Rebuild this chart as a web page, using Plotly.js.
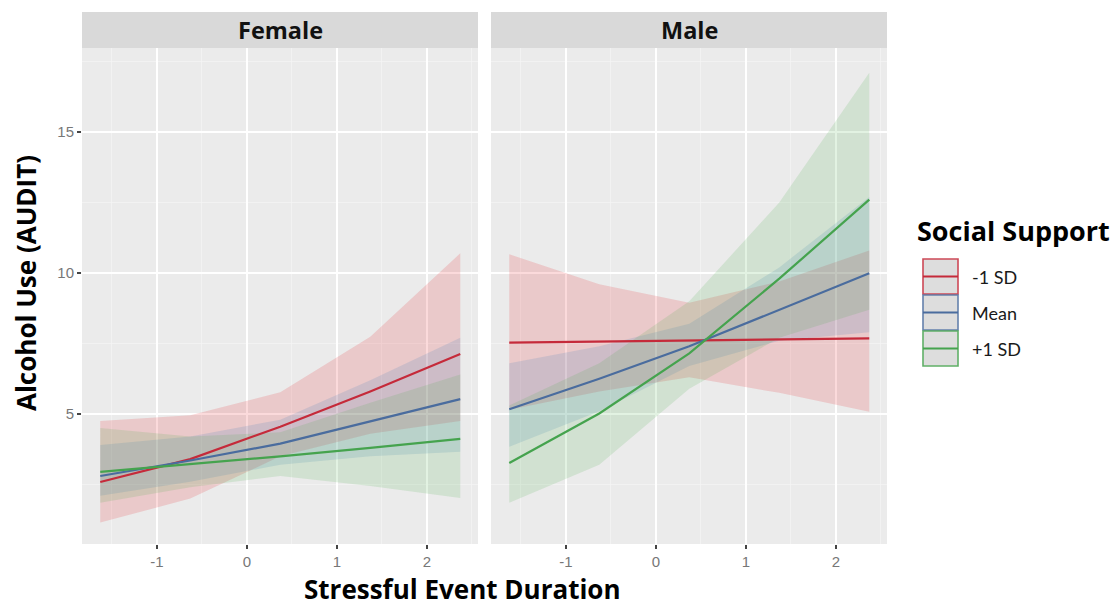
<!DOCTYPE html>
<html><head><meta charset="utf-8">
<script src="https://cdn.plot.ly/plotly-3.0.1.min.js"></script>
<style>html,body{margin:0;padding:0;background:#fff}#chart{width:1120px;height:609px}</style>
</head><body><div id="chart"></div>
<script>
// Stressful event duration (x) values at which predictions were computed
var durations = [-1.63, -0.63, 0.37, 1.37, 2.37];
var panels = ["Female", "Male"];
var groups = ["-1 SD", "Mean", "+1 SD"];

// Female panel: fitted values and confidence bands
var femaleLowFit  = [2.59, 3.40, 4.55, 5.80, 7.13];
var femaleLowLo   = [1.15, 2.00, 3.50, 4.30, 4.75];
var femaleLowHi   = [4.75, 4.96, 5.77, 7.74, 10.70];
var femaleMeanFit = [2.80, 3.35, 3.95, 4.73, 5.53];
var femaleMeanLo  = [2.10, 2.60, 3.20, 3.50, 3.66];
var femaleMeanHi  = [3.90, 4.20, 4.80, 6.20, 7.70];
var femaleHighFit = [2.95, 3.22, 3.50, 3.80, 4.12];
var femaleHighLo  = [1.85, 2.40, 2.80, 2.45, 2.02];
var femaleHighHi  = [4.50, 4.20, 4.35, 5.40, 6.40];

// Male panel: fitted values and confidence bands
var maleLowFit  = [7.53, 7.57, 7.61, 7.65, 7.68];
var maleLowLo   = [5.15, 5.80, 6.30, 5.75, 5.08];
var maleLowHi   = [10.67, 9.60, 8.95, 9.70, 10.80];
var maleMeanFit = [5.17, 6.25, 7.40, 8.70, 9.99];
var maleMeanLo  = [3.84, 5.10, 6.70, 7.60, 7.90];
var maleMeanHi  = [6.80, 7.40, 8.20, 10.20, 12.70];
var maleHighFit = [3.26, 5.02, 7.15, 9.80, 12.60];
var maleHighLo  = [1.85, 3.20, 5.90, 7.70, 8.70];
var maleHighHi  = [5.30, 6.80, 9.00, 12.50, 17.10];

var xTicks = [-1, 0, 1, 2];
var yTicks = [5, 10, 15];

var lineColors = ["#C52A3A", "#4A6C9E", "#45A34E"];
var fillColors = ["rgba(228,26,28,0.16)", "rgba(55,126,184,0.16)", "rgba(77,175,74,0.16)"];

var panelData = [
  {fit:[femaleLowFit, femaleMeanFit, femaleHighFit], lo:[femaleLowLo, femaleMeanLo, femaleHighLo], hi:[femaleLowHi, femaleMeanHi, femaleHighHi]},
  {fit:[maleLowFit, maleMeanFit, maleHighFit], lo:[maleLowLo, maleMeanLo, maleHighLo], hi:[maleLowHi, maleMeanHi, maleHighHi]}
];

var traces = [];
panelData.forEach(function(p, pi){
  var xa = pi === 0 ? "x" : "x2", ya = pi === 0 ? "y" : "y2";
  for (var g = 0; g < 3; g++) {
    traces.push({x: durations, y: p.lo[g], xaxis: xa, yaxis: ya, type: "scatter", mode: "lines",
      line: {width: 0, color: "rgba(0,0,0,0)"}, showlegend: false, hoverinfo: "skip"});
    traces.push({x: durations, y: p.hi[g], xaxis: xa, yaxis: ya, type: "scatter", mode: "lines",
      fill: "tonexty", fillcolor: fillColors[g], line: {width: 0, color: "rgba(0,0,0,0)"},
      showlegend: false, hoverinfo: "skip"});
  }
});
panelData.forEach(function(p, pi){
  var xa = pi === 0 ? "x" : "x2", ya = pi === 0 ? "y" : "y2";
  for (var g = 0; g < 3; g++) {
    traces.push({x: durations, y: p.fit[g], xaxis: xa, yaxis: ya, type: "scatter", mode: "lines",
      name: groups[g], line: {width: 2.2, color: lineColors[g]}, showlegend: false});
  }
});

var W = 1120, H = 609;
function px(x){ return x / W; }
function py(y){ return 1 - y / H; }
var xRange = [-1.833, 2.567], yRange = [0.39, 17.98];
var panelTop = 48, panelBottom = 544, stripTop = 12;
var titleFont = "Open Sans, Noto Sans, sans-serif";

var axisCommon = {
  range: xRange, tickvals: xTicks, ticktext: xTicks.map(String), ticks: "outside", ticklen: 4, tickwidth: 1.3,
  tickcolor: "#444", showgrid: true, gridcolor: "#ffffff", gridwidth: 1.4, zeroline: false, showline: false,
  tickfont: {family: "Liberation Sans, Arial", size: 15, color: "#777777"},
  minor: {dtick: 0.5, tick0: -1.5, showgrid: true, gridcolor: "#f5f5f5", gridwidth: 0.7, ticks: ""}, fixedrange: true
};
var yCommon = {
  range: yRange, tickvals: yTicks, ticks: "outside", ticklen: 4, tickwidth: 1.3, tickcolor: "#444",
  showgrid: true, gridcolor: "#ffffff", gridwidth: 1.4, zeroline: false, showline: false,
  tickfont: {family: "Liberation Sans, Arial", size: 15, color: "#777777"},
  minor: {dtick: 2.5, tick0: 2.5, showgrid: true, gridcolor: "#f5f5f5", gridwidth: 0.7, ticks: ""},
  domain: [py(panelBottom), py(panelTop)], fixedrange: true
};

var layout = {
  width: W, height: H, margin: {l:0, r:0, t:0, b:0}, paper_bgcolor: "#ffffff", plot_bgcolor: "#EBEBEB",
  showlegend: false,
  xaxis: Object.assign({}, axisCommon, {domain: [px(82), px(478)], anchor: "y"}),
  xaxis2: Object.assign({}, axisCommon, {domain: [px(491), px(887)], anchor: "y2"}),
  yaxis: Object.assign({}, yCommon, {anchor: "x"}),
  yaxis2: Object.assign({}, yCommon, {anchor: "x2", showticklabels: false, ticks: "", matches: "y"}),
  shapes: [], annotations: []
};

// facet strips
[[82,478],[491,887]].forEach(function(b, i){
  layout.shapes.push({type:"rect", xref:"paper", yref:"paper", x0:px(b[0]), x1:px(b[1]), y0:py(panelTop), y1:py(stripTop),
    fillcolor:"#D9D9D9", line:{width:0}, layer:"below"});
  layout.annotations.push({xref:"paper", yref:"paper", x:px((b[0]+b[1])/2), y:py(30), text:"<b>"+panels[i]+"</b>",
    showarrow:false, xanchor:"center", yanchor:"middle", font:{family:titleFont, size:23.5, color:"#111"}});
});

// axis titles
layout.annotations.push({xref:"paper", yref:"paper", x:px(462), y:py(589), text:"<b>Stressful Event Duration</b>",
  showarrow:false, xanchor:"center", yanchor:"middle", font:{family:titleFont, size:26, color:"#000"}});
layout.annotations.push({xref:"paper", yref:"paper", x:px(26), y:py(283), text:"<b>Alcohol Use (AUDIT)</b>", textangle:-90,
  showarrow:false, xanchor:"center", yanchor:"middle", font:{family:titleFont, size:26, color:"#000"}});

// legend
layout.annotations.push({xref:"paper", yref:"paper", x:px(915), y:py(230), text:"<b>Social Support</b>",
  showarrow:false, xanchor:"left", yanchor:"middle", font:{family:titleFont, size:27, color:"#000"}});
var keyTops = [259, 295, 331];
groups.forEach(function(g, i){
  var t = keyTops[i], b = t + 35;
  layout.shapes.push({type:"rect", xref:"paper", yref:"paper", x0:px(923), x1:px(958), y0:py(b), y1:py(t),
    fillcolor:"#D8D8D8", line:{color:lineColors[i], width:1.6}, opacity:0.85});
  layout.shapes.push({type:"line", xref:"paper", yref:"paper", x0:px(923), x1:px(958), y0:py((t+b)/2), y1:py((t+b)/2),
    line:{color:lineColors[i], width:2.2}});
  layout.annotations.push({xref:"paper", yref:"paper", x:px(970), y:py((t+b)/2), text:g,
    showarrow:false, xanchor:"left", yanchor:"middle", font:{family:"Lato, Open Sans", size:18, color:"#1a1a1a"}});
});

Plotly.newPlot("chart", traces, layout, {displayModeBar:false, staticPlot:true});
</script></body></html>
